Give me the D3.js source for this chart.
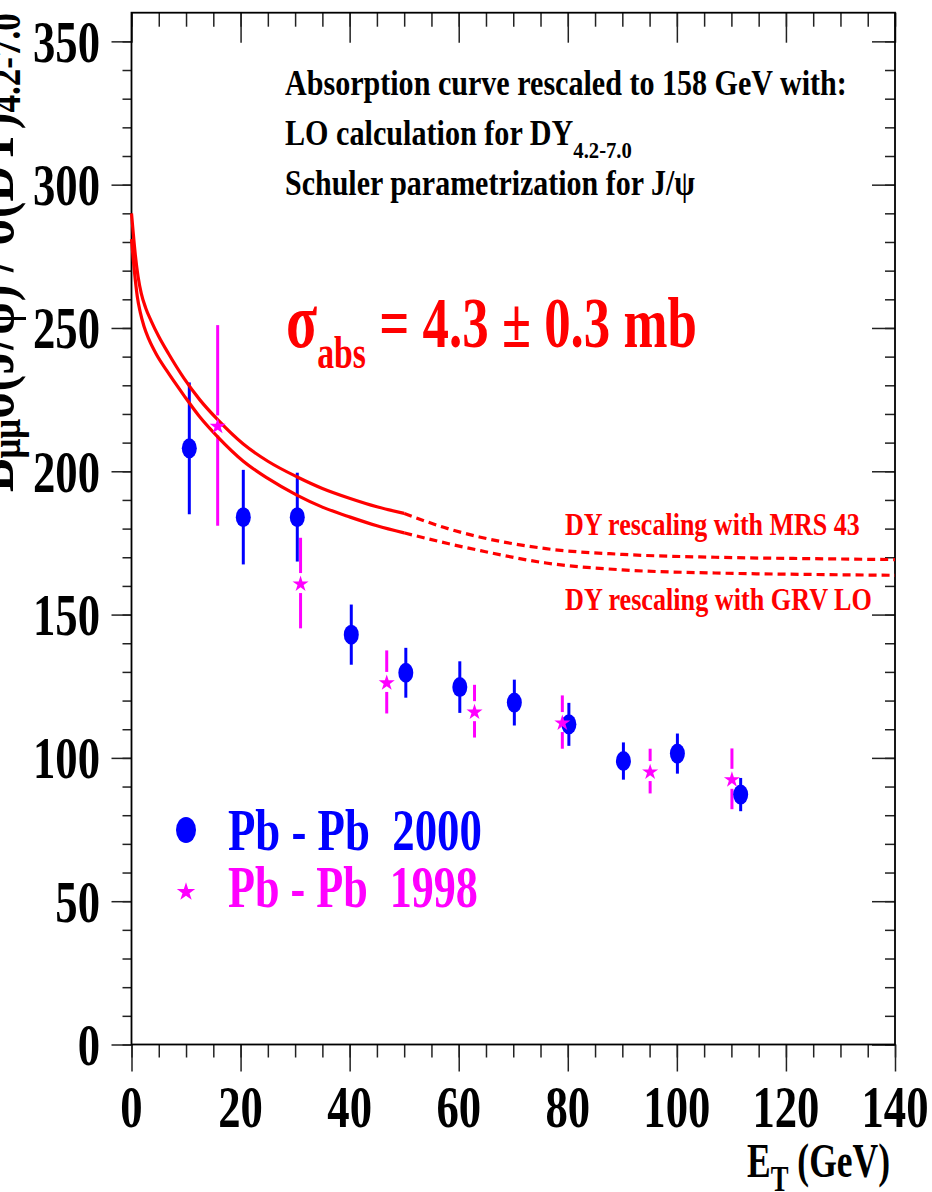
<!DOCTYPE html>
<html><head><meta charset="utf-8">
<script src="https://cdn.jsdelivr.net/npm/d3@7"></script>
<style>
html,body{margin:0;padding:0;background:#fff;}
svg{display:block;}
text{font-family:"Liberation Serif","Times New Roman",serif;font-weight:bold;white-space:pre;}
</style></head><body>
<svg id="c" width="932" height="1192"></svg>
<script>
// ---------- data ----------
const xTicks=[0,20,40,60,80,100,120,140];
const yTicks=[0,50,100,150,200,250,300,350];
const xMinor=d3.range(0,141,5);
const yMinor=d3.range(0,351,10);

const et2000=[10.6,20.5,30.4,40.3,50.3,60.2,70.2,80.2,90.2,100.1,111.7];
const val2000=[208,184,184,143,129.7,124.7,119.3,111.7,98.9,101.5,87.2];
const err2000=[23,16.5,15.5,10.5,8.7,9,8,7.5,6.5,7,5.8];

const et1998=[15.8,31,46.8,62.9,79,95.1,110.1];
const val1998=[216,161,126.5,116.3,112.5,95.4,92.7];
const err1998=[35,15.8,11,9.2,9.3,7.8,10.6];

const mrsSolidEt=[0,0.3,0.7,1.2,1.8,2.6,3.6,5,6.8,9.6,12.5,15.8,20.5,25,30.4,35,40.1,45,50];
const mrsSolidVal=[290,283.5,275.5,268,262,257,252.5,247,241,232.5,225,218,209.5,203.5,198,194,190.5,187.6,185.3];
const grvSolidEt=[0,0.3,0.6,1.06,1.6,2.3,3.2,4.5,6.5,9.6,12.5,15.8,20.5,25,30.4,35,40.1,45,50];
const grvSolidVal=[281,274.5,268.5,261,255.5,250.5,246,241,235,226.5,219,212,203.5,197.5,191.6,187.5,184,181,178.5];
const mrsDotEt=[50,58,64,76,90,107,125,140];
const mrsDotVal=[185.3,180,177,173,171,170,169.5,169.2];
const grvDotEt=[50,58,64,76,90,107,125,140];
const grvDotVal=[178.5,174.8,172.3,168,165.6,164.5,164,163.7];

const legendLabels=["Pb - Pb  2000","Pb - Pb  1998"];

// ---------- layout ----------
const L=131.5,R=895,T=12.7,B=1044.5;
const BLUE="#0000ff",MAG="#ff00ff",RED="#ff0000";
const CX=0.745;
const svg=d3.select("#c");
const x=d3.scaleLinear().domain([0,140]).range([L,R]);
const y=d3.scaleLinear().domain([0,360]).range([B,T]);

function styleAxis(g){
  g.select(".domain").remove();
  g.selectAll("text").remove();
  g.selectAll("line").attr("stroke","#222").attr("stroke-width",1.5);
}
// bottom (outward)
svg.append("g").attr("transform",`translate(0,${B})`).call(d3.axisBottom(x).tickValues(xMinor).tickSize(13)).call(styleAxis);
svg.append("g").attr("transform",`translate(0,${B})`).call(d3.axisBottom(x).tickValues(xTicks).tickSize(27)).call(styleAxis);
// top (inward)
svg.append("g").attr("transform",`translate(0,${T})`).call(d3.axisBottom(x).tickValues(xMinor).tickSize(14)).call(styleAxis);
svg.append("g").attr("transform",`translate(0,${T})`).call(d3.axisBottom(x).tickValues(xTicks).tickSize(30)).call(styleAxis);
// left (outward)
svg.append("g").attr("transform",`translate(${L},0)`).call(d3.axisLeft(y).tickValues(yMinor).tickSize(9)).call(styleAxis);
svg.append("g").attr("transform",`translate(${L},0)`).call(d3.axisLeft(y).tickValues(yTicks).tickSize(20)).call(styleAxis);
// right (inward)
svg.append("g").attr("transform",`translate(${R},0)`).call(d3.axisLeft(y).tickValues(yMinor).tickSize(10)).call(styleAxis);
svg.append("g").attr("transform",`translate(${R},0)`).call(d3.axisLeft(y).tickValues(yTicks).tickSize(23)).call(styleAxis);

// frame
svg.append("rect").attr("x",L).attr("y",T).attr("width",R-L).attr("height",B-T)
  .attr("fill","none").attr("stroke","#000").attr("stroke-width",1.8);

// tick labels
yTicks.forEach(v=>{
  svg.append("g").attr("transform",`translate(100,${y(v)+20.5}) scale(${CX},1)`)
    .append("text").attr("text-anchor","end").attr("font-size",60).text(v);
});
xTicks.forEach(v=>{
  svg.append("g").attr("transform",`translate(${x(v)},1126.5) scale(${CX},1)`)
    .append("text").attr("text-anchor","middle").attr("font-size",60).text(v);
});

// fitted text helper
function fitText(x0,y0,target,anchor,color,build,extra){
  const g=svg.append("g");
  const t=g.append("text").attr("fill",color);
  build(t);
  const w=t.node().getComputedTextLength();
  const s=target/w;
  if(extra){ g.attr("transform",extra+` scale(${s},1)`); return; }
  const xs=anchor==="end"?x0-target:(anchor==="middle"?x0-target/2:x0);
  g.attr("transform",`translate(${xs},${y0}) scale(${s},1)`);
}

// axis titles
fitText(890,1177,143,"end","#000",t=>{
  t.attr("font-size",48);
  t.append("tspan").text("E");
  t.append("tspan").attr("font-size",36).attr("dy",14).text("T");
  t.append("tspan").attr("dy",-14).text(" (GeV)");
});
fitText(0,0,479,"start","#000",t=>{
  t.attr("font-size",60);
  t.append("tspan").text("B");
  t.append("tspan").attr("font-size",42).attr("dy",7).text("μμ");
  t.append("tspan").attr("dy",-7).text("σ(J/ψ) / σ(DY)");
  t.append("tspan").attr("font-size",42).attr("dy",7).text("4.2-7.0");
},"translate(13,492) rotate(-90)");

// annotations
fitText(285,95,562,"start","#000",t=>{t.attr("font-size",35).text("Absorption curve rescaled to 158 GeV with:");});
fitText(285,145,347,"start","#000",t=>{
  t.attr("font-size",35);
  t.append("tspan").text("LO calculation for DY");
  t.append("tspan").attr("font-size",24).attr("dy",13).text("4.2-7.0");
});
fitText(285,195,410,"start","#000",t=>{t.attr("font-size",35).text("Schuler parametrization for J/ψ");});
fitText(286,347,411,"start",RED,t=>{
  t.attr("font-size",72);
  t.append("tspan").attr("font-size",78).text("σ");
  t.append("tspan").attr("font-size",46).attr("dy",21).text("abs");
  t.append("tspan").attr("dy",-21).text(" = 4.3 ± 0.3 mb");
});
fitText(565,535,295,"start",RED,t=>{t.attr("font-size",31).text("DY rescaling with MRS 43");});
fitText(565,610,307,"start",RED,t=>{t.attr("font-size",31).text("DY rescaling with GRV LO");});

// error bars
const bars=svg.append("g");
et2000.forEach((e,i)=>{
  bars.append("line").attr("x1",x(e)).attr("x2",x(e))
    .attr("y1",y(val2000[i]+err2000[i])).attr("y2",y(val2000[i]-err2000[i]))
    .attr("stroke",BLUE).attr("stroke-width",3);
});
et1998.forEach((e,i)=>{
  const yc=y(val1998[i]);
  const yt=y(val1998[i]+err1998[i]), yb=y(val1998[i]-err1998[i]);
  if(yt<yc-10) bars.append("line").attr("x1",x(e)).attr("x2",x(e)).attr("y1",yt).attr("y2",yc-10).attr("stroke",MAG).attr("stroke-width",3);
  if(yb>yc+10) bars.append("line").attr("x1",x(e)).attr("x2",x(e)).attr("y1",yc+10).attr("y2",yb).attr("stroke",MAG).attr("stroke-width",3);
});

// curves
const line=d3.line().x(d=>x(d[0])).y(d=>y(d[1])).curve(d3.curveMonotoneX);
const zipPts=(a,b)=>a.map((v,i)=>[v,b[i]]);
[[mrsSolidEt,mrsSolidVal,null],[grvSolidEt,grvSolidVal,null],[mrsDotEt,mrsDotVal,"8,5"],[grvDotEt,grvDotVal,"8,5"]].forEach(([a,b,d])=>{
  svg.append("path").attr("d",line(zipPts(a,b))).attr("fill","none").attr("stroke",RED)
    .attr("stroke-width",3.2).attr("stroke-dasharray",d);
});

// markers
et2000.forEach((e,i)=>{
  svg.append("ellipse").attr("cx",x(e)).attr("cy",y(val2000[i])).attr("rx",7.5).attr("ry",10).attr("fill",BLUE);
});
const star=d3.symbol().type(d3.symbolStar);
et1998.forEach((e,i)=>{
  svg.append("path").attr("d",star.size(80)()).attr("transform",`translate(${x(e)},${y(val1998[i])+1})`).attr("fill",MAG);
});

// legend
svg.append("ellipse").attr("cx",186).attr("cy",830).attr("rx",10).attr("ry",13).attr("fill",BLUE);
svg.append("path").attr("d",star.size(105)()).attr("transform","translate(186,892)").attr("fill",MAG);
fitText(228,850,254,"start",BLUE,t=>{t.attr("font-size",60).text(legendLabels[0]);});
fitText(228,907,250,"start",MAG,t=>{t.attr("font-size",60).text(legendLabels[1]);});
</script>
</body></html>
